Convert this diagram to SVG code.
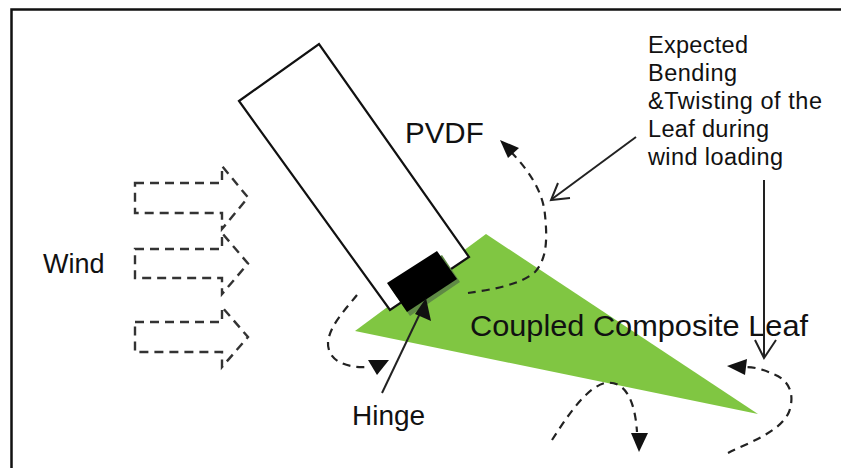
<svg xmlns="http://www.w3.org/2000/svg" width="841" height="468" viewBox="0 0 841 468">
  <defs>
    <style>
      .lbl { font-family: "Liberation Sans", Arial, sans-serif; fill: #111; }
      .dash { fill: none; stroke: #222; stroke-width: 2.2; stroke-dasharray: 8 6; }
      .wind { fill: none; stroke: #333; stroke-width: 2.4; stroke-dasharray: 9 6; }
      .solid { fill: none; stroke: #222; stroke-width: 2; }
      .head { fill: #111; stroke: none; }
    </style>
  </defs>

  <rect x="0" y="0" width="841" height="468" fill="#ffffff"/>

  <!-- frame -->
  <g id="frame">
    <path d="M11.5,468 V9.5 H841" fill="none" stroke="#111" stroke-width="2.5"/>
  </g>

  <!-- wind arrows -->
  <g id="wind">
    <path class="wind" d="M135,183 H222 V166 L248,197.5 L222,229 V213 H135 Z"/>
    <path class="wind" d="M135,249 H222 V233 L248,263.5 L222,294 V278 H135 Z"/>
    <path class="wind" d="M135,322 H222 V307 L248,337 L222,367 V352 H135 Z"/>
    <text class="lbl" x="43" y="273" font-size="27">Wind</text>
  </g>

  <!-- composite leaf -->
  <g id="leaf">
    <polygon points="355,331 486,234 758,414" fill="#80c642"/>
    <text class="lbl" x="470" y="336" font-size="29.5" textLength="338" lengthAdjust="spacingAndGlyphs">Coupled Composite Leaf</text>
  </g>

  <!-- PVDF strip -->
  <g id="pvdf">
    <polygon points="239,101 319,44 469,257 390,310" fill="#ffffff" stroke="#111" stroke-width="2.2" stroke-linejoin="miter"/>
    <text class="lbl" x="405" y="143" font-size="29.5">PVDF</text>
  </g>

  <!-- hinge block -->
  <g id="hinge">
    <polygon points="390,287 442,255 460,282 410,316" fill="#5f8a45"/>
    <polygon points="387,283 437,251 457,279 407,312" fill="#000000"/>
    <text class="lbl" x="352" y="425" font-size="28">Hinge</text>
  </g>

  <!-- annotation text -->
  <g id="note">
    <text class="lbl" font-size="23.5" lengthAdjust="spacingAndGlyphs">
      <tspan x="648" y="53" textLength="100">Expected</tspan>
      <tspan x="648" y="81" textLength="89">Bending</tspan>
      <tspan x="648" y="109" textLength="174">&amp;Twisting of the</tspan>
      <tspan x="648" y="137" textLength="121">Leaf during</tspan>
      <tspan x="648" y="165" textLength="135">wind loading</tspan>
    </text>
  </g>

  <!-- connectors -->
  <g id="connectors">
    <!-- hinge pointer -->
    <line class="solid" x1="382" y1="393" x2="424" y2="305"/>
    <polygon class="head" points="426,298 431,321 415,314"/>

    <!-- note pointers -->
    <line class="solid" x1="636" y1="137" x2="552" y2="199"/>
    <path class="solid" d="M558,183 L551,200 L570,198"/>
    <line class="solid" x1="764" y1="180" x2="764" y2="358"/>
    <path class="solid" d="M755,340 L764,358 L776,340"/>

    <!-- twisting paths -->
    <path class="dash" d="M468,293 C490,290 520,285 535,272 C548,258 547,235 545,215 C543,192 530,172 512,153"/>
    <polygon class="head" points="500,140 519,148 508,158"/>

    <path class="dash" d="M357,295 C345,310 330,325 328,342 C327,360 345,368 366,367"/>
    <polygon class="head" points="368,360 389,360 377,375"/>

    <path class="dash" d="M552,440 C565,420 585,388 605,383 C625,380 635,400 637,432"/>
    <polygon class="head" points="631,433 648,433 639,452"/>

    <path class="dash" d="M728,453 C750,442 780,432 789,412 C795,395 790,380 773,374 C765,370 755,367 745,367"/>
    <polygon class="head" points="727,366 747,359 745,375"/>
  </g>
</svg>
